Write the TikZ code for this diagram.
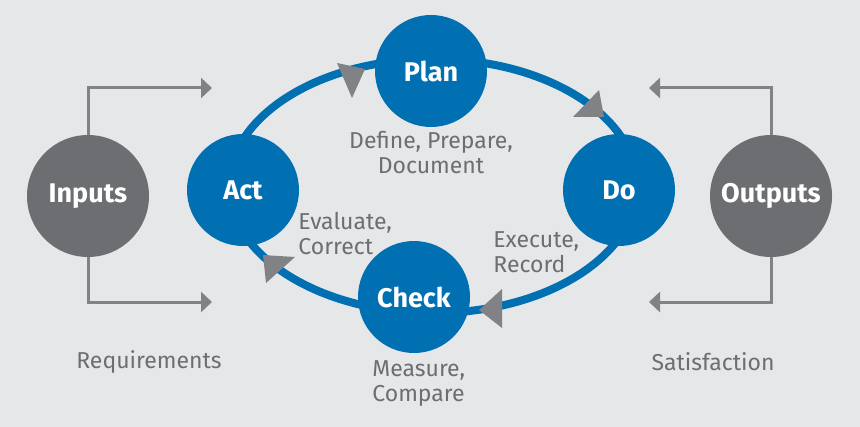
\documentclass[tikz,border=0pt]{standalone}
\usepackage{fontspec}
\setmainfont{Fira Sans}
\usepackage{xcolor}
\usepackage{tikz}
\usetikzlibrary{arrows.meta, positioning}
\definecolor{PdcaBlue}{HTML}{0070B3}
\definecolor{PdcaGray}{HTML}{6D6E71}
\definecolor{HeadGray}{HTML}{808285}
\definecolor{Paper}{HTML}{E6E7E9}

\begin{document}
\begin{tikzpicture}[
    x=0.5pt, y=-0.5pt,
    phase/.style={circle, fill=PdcaBlue, text=white, minimum size=56pt, inner sep=0pt, font=\fontsize{13.5}{16}\selectfont\bfseries},
    port/.style={phase, fill=PdcaGray, minimum size=61pt},
    note/.style={text=PdcaGray, font=\fontsize{11.5}{12.5}\selectfont, inner sep=0pt, align=left},
    ring/.style={draw=PdcaBlue, line width=4pt},
    flow/.style={draw=HeadGray, line width=1.5pt, -{Triangle[length=5.5pt, width=10pt]}},
    head/.style={fill=HeadGray}
]
% Background
\fill[Paper] (0,0) rectangle (860,427);
\useasboundingbox (0,0) rectangle (860,427);

% Cycle ring
\coordinate (mid) at (433,186);
\draw[ring] (mid) ellipse [x radius=102pt, y radius=63.5pt];

% Arrowheads on the ring
\fill[head] (337,63) -- (365,69) -- (352,98) -- cycle;
\fill[head] (573,117) -- (599,90) -- (604,117) -- cycle;
\fill[head] (479,310) -- (502,289) -- (502,328) -- cycle;
\fill[head] (263,255) -- (295,257) -- (266,283) -- cycle;

% Phases: Plan, Do, Check, Act
\node[phase] (plan) at (431,71) {Plan};
\node[phase] (do) at (619,190) {Do};
\node[phase] (check) at (414,297) {Check};
\node[phase] (act) at (243,190) {Act};

% Inputs and outputs
\node[port] (in) at (88,196) {Inputs};
\node[port] (out) at (771,196) {Outputs};

\coordinate (inup) at (212,88);
\coordinate (indown) at (212,302);
\coordinate (outup) at (649,88);
\coordinate (outdown) at (649,302);
\draw[flow] (in.north) |- (inup);
\draw[flow] (in.south) |- (indown);
\draw[flow] (out.north) |- (outup);
\draw[flow] (out.south) |- (outdown);

% Phase notes
\node[note, align=center] (plannote) at (431,153) {Define, Prepare,\\Document};
\node[note, anchor=west] (actnote) at (298,234) {Evaluate,\\Correct};
\node[note, anchor=west] (donote) at (493,252) {Execute,\\Record};
\node[note, anchor=west] (checknote) at (372,384) {Measure,\\Compare};
\node[note] (req) at (149,362) {Requirements};
\node[note] (sat) at (713,362) {Satisfaction};
\end{tikzpicture}
\end{document}
